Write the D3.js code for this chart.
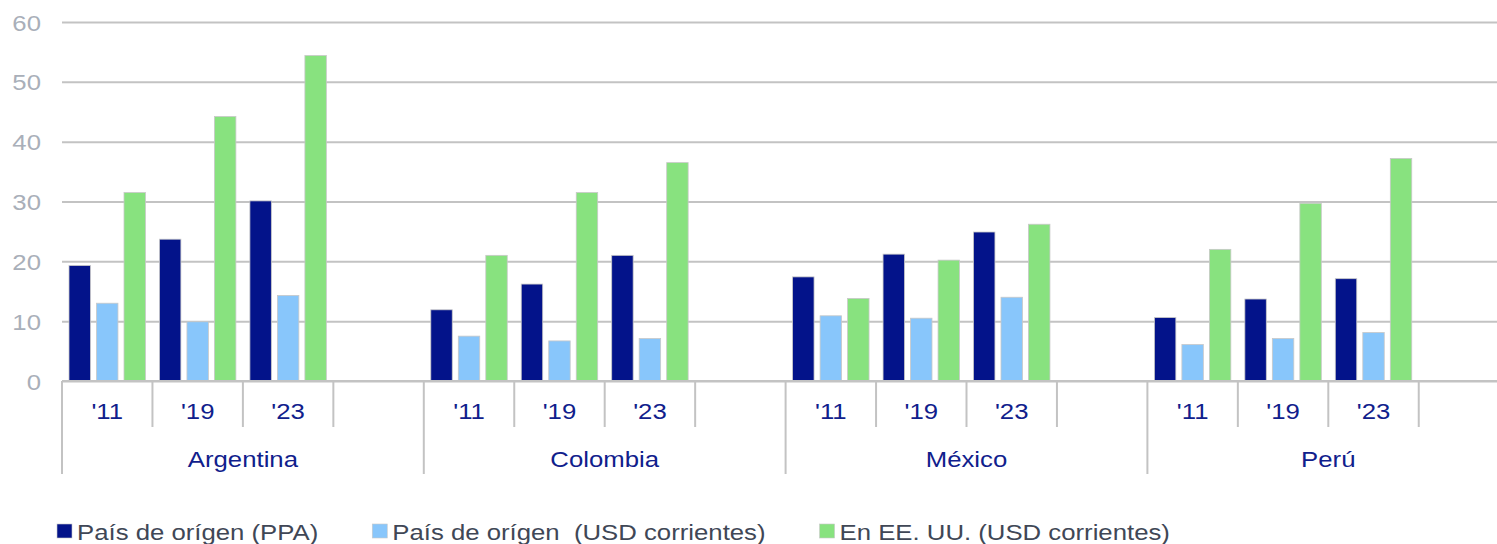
<!DOCTYPE html>
<html>
<head>
<meta charset="utf-8">
<script src="https://cdn.jsdelivr.net/npm/d3@7"></script>
<style>
  html, body { margin: 0; padding: 0; background: #fff; }
  svg { display: block; font-family: 'Liberation Sans', Arial, sans-serif; }
</style>
</head>
<body>
<svg id="chart" width="1497" height="544"></svg>
<script>
const countries = ['Argentina', 'Colombia', 'México', 'Perú']
const years = ["'11", "'19", "'23"]
const seriesNames = ['País de orígen (PPA)', 'País de orígen  (USD corrientes)', 'En EE. UU. (USD corrientes)']
// one value per country x year, in the order of countries then years
const ppa = [19.3, 23.7, 30.1, 11.9, 16.2, 21.0, 17.4, 21.2, 24.9, 10.6, 13.7, 17.1]
const usdOrigen = [13.0, 9.9, 14.3, 7.5, 6.7, 7.1, 10.9, 10.5, 14.0, 6.1, 7.1, 8.1]
const usdEEUU = [31.5, 44.2, 54.4, 21.0, 31.5, 36.5, 13.8, 20.2, 26.2, 22.0, 29.7, 37.2]
const yTicks = [0, 10, 20, 30, 40, 50, 60]

const colors = ['#03138a', '#88c6fb', '#88e27f']
const stretch = 1.17 // the reference text is drawn wide
const margin = {left: 62, top: 22, bottom: 381}
const W = 1497

const svg = d3.select('#chart')

// every country gets its three years plus one empty slot
const slots = []
countries.forEach(c => {
  years.forEach(y => slots.push({country: c, year: y}))
  slots.push({country: c, year: ''})
})
const slotKey = d => d.country + '|' + d.year

const slotW = 90.45
const x = d3.scaleBand()
  .domain(slots.map(slotKey))
  .range([margin.left, margin.left + slots.length * slotW])
  .padding(0)
const xInner = d3.scaleBand()
  .domain([0, 1, 2])
  .range([7, slotW - 7])
  .paddingInner(0.22)
const y = d3.scaleLinear().domain([0, 60]).range([margin.bottom, margin.top])

// gridlines and y labels
const yAxis = svg.append('g')
  .attr('transform', 'translate(' + margin.left + ',0)')
  .call(d3.axisLeft(y).tickValues(yTicks).tickSize(-(W - margin.left)).tickFormat(d3.format('d')))
yAxis.select('.domain').remove()
yAxis.selectAll('line').attr('stroke', '#c3c3c3').attr('stroke-width', 2)
yAxis.selectAll('text')
  .attr('x', null).attr('dy', null)
  .attr('transform', 'translate(-21,8) scale(' + stretch + ',1)')
  .attr('fill', '#a9afb9')
  .attr('font-size', 22)
  .attr('font-family', 'Liberation Sans, Arial, sans-serif')
  .attr('text-anchor', 'end')

// bars
const rows = []
countries.forEach((c, ci) => {
  years.forEach((yr, yi) => {
    const i = ci * 3 + yi
    ;[ppa[i], usdOrigen[i], usdEEUU[i]].forEach((v, s) => rows.push({country: c, year: yr, s, v}))
  })
})
svg.append('g').selectAll('rect')
  .data(rows)
  .enter()
  .append('rect')
  .attr('x', d => x(slotKey(d)) + xInner(d.s))
  .attr('y', d => y(d.v))
  .attr('width', xInner.bandwidth())
  .attr('height', d => y(0) - y(d.v))
  .attr('fill', d => colors[d.s])
  .attr('stroke', '#c8c8c8')
  .attr('stroke-width', 0.8)

// category axis
const cat = svg.append('g').attr('stroke', '#c3c3c3').attr('stroke-width', 2)
cat.append('line')
  .attr('x1', margin.left).attr('x2', W)
  .attr('y1', y(0)).attr('y2', y(0))
cat.selectAll('.tick-year')
  .data(slots)
  .enter()
  .append('line')
  .attr('x1', d => x(slotKey(d)) + slotW).attr('x2', d => x(slotKey(d)) + slotW)
  .attr('y1', y(0)).attr('y2', d => d.year === '' ? 474 : 427)
cat.append('line')
  .attr('x1', margin.left).attr('x2', margin.left)
  .attr('y1', y(0)).attr('y2', 474)

const label = (g, tx, ty, text, fill) => g.append('text')
  .attr('transform', 'translate(' + tx + ',' + ty + ') scale(' + stretch + ',1)')
  .attr('text-anchor', 'middle')
  .attr('font-size', 22)
  .attr('fill', fill)
  .style('white-space', 'pre')
  .text(text)

const labels = svg.append('g')
slots.filter(d => d.year !== '').forEach(d => {
  label(labels, x(slotKey(d)) + slotW / 2, 419, d.year, '#10208c')
})
countries.forEach(c => {
  const x0 = x(c + '|' + years[0])
  label(labels, x0 + slotW * 2, 467, c, '#10208c')
})

// legend
const legend = svg.append('g')
let lx = 57
seriesNames.forEach((name, i) => {
  legend.append('rect')
    .attr('x', lx).attr('y', 524)
    .attr('width', 15).attr('height', 14)
    .attr('fill', colors[i])
    .attr('stroke', '#c8c8c8').attr('stroke-width', 0.6)
  const t = legend.append('text')
    .attr('transform', 'translate(' + (lx + 20) + ',540) scale(' + stretch + ',1)')
    .attr('font-size', 22)
    .attr('fill', '#404756')
    .style('white-space', 'pre')
    .text(name)
  lx += 20 + t.node().getComputedTextLength() * stretch + 54
})
</script>
</body>
</html>
